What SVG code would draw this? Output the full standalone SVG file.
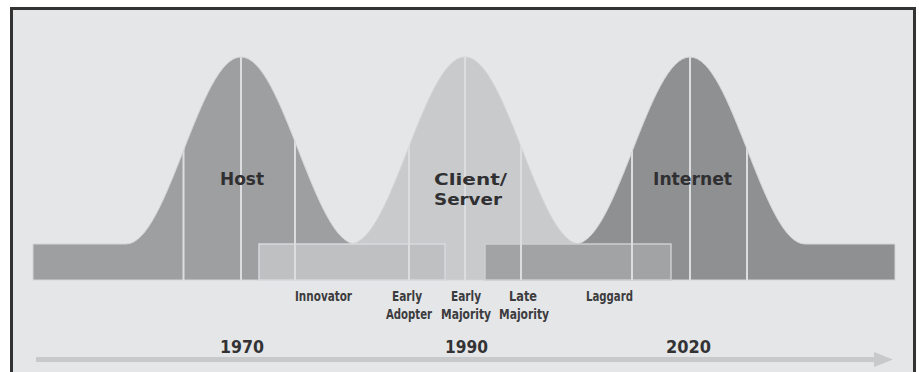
<svg xmlns="http://www.w3.org/2000/svg" width="919" height="372" viewBox="0 0 919 372">
  <style>
    .title { font-family: "DejaVu Sans", "Liberation Sans", sans-serif; font-weight: bold; font-size: 17px; fill: #303032; }
    .title2 { font-family: "DejaVu Sans", "Liberation Sans", sans-serif; font-weight: bold; font-size: 16.5px; fill: #303032; }
    .year { font-family: "DejaVu Sans", "Liberation Sans", sans-serif; font-weight: bold; font-size: 17px; fill: #333335; }
    .lbl { font-family: "DejaVu Sans Condensed", "DejaVu Sans", "Liberation Sans", sans-serif; font-weight: bold; font-size: 13.5px; fill: #3c3c3e; }
    .bell { stroke: #d4d5d7; stroke-width: 1; }
    .div { stroke: #dcdddf; stroke-width: 2; }
    .band { stroke-width: 1.5; }
  </style>
  <defs>
    <clipPath id="bells">
      <path d="M33,280 L33,244 L126,244 C146.8,244 164.7,198.4 183.5,150.5 C202.3,102.6 220.2,57 241,57 C261.8,57 279.7,102.6 298.5,150.5 C317.3,198.4 335.2,244 356,244 L356,280 Z"/>
      <path d="M350,280 L350,244 C370.8,244 388.7,198.4 407.5,150.5 C426.3,102.6 444.2,57 465,57 C485.8,57 503.7,102.6 522.5,150.5 C541.3,198.4 559.2,244 580,244 L580,280 Z"/>
      <path d="M575,280 L575,244 C595.8,244 613.7,198.4 632.5,150.5 C651.3,102.6 669.2,57 690,57 C710.8,57 728.7,102.6 747.5,150.5 C766.3,198.4 784.2,244 805,244 L895,244 L895,280 Z"/>
    </clipPath>
  </defs>

  <rect x="0" y="0" width="919" height="372" fill="#ffffff"/>
  <rect id="frame" x="11.5" y="8.5" width="903" height="370" fill="#e5e6e8" stroke="#333333" stroke-width="3"/>

  <g id="host">
    <path class="bell" fill="#9e9fa1" d="M33,280 L33,244 L126,244 C146.8,244 164.7,198.4 183.5,150.5 C202.3,102.6 220.2,57 241,57 C261.8,57 279.7,102.6 298.5,150.5 C317.3,198.4 335.2,244 356,244 L356,280 Z"/>
  </g>
  <g id="internet">
    <path class="bell" fill="#8f9092" d="M575,280 L575,244 C595.8,244 613.7,198.4 632.5,150.5 C651.3,102.6 669.2,57 690,57 C710.8,57 728.7,102.6 747.5,150.5 C766.3,198.4 784.2,244 805,244 L895,244 L895,280 Z"/>
  </g>
  <g id="client-server">
    <path class="bell" fill="#c9cacc" d="M350,280 L350,244 C370.8,244 388.7,198.4 407.5,150.5 C426.3,102.6 444.2,57 465,57 C485.8,57 503.7,102.6 522.5,150.5 C541.3,198.4 559.2,244 580,244 L580,280 Z"/>
  </g>

  <g id="adoption-bands">
    <rect class="band" x="259" y="244" width="186" height="36" fill="#bfc0c2" stroke="#d8d9db"/>
    <rect class="band" x="485" y="244" width="186" height="36" fill="#a2a3a5" stroke="#cdced0"/>
  </g>

  <g id="dividers" clip-path="url(#bells)">
    <line class="div" x1="183.5" y1="50" x2="183.5" y2="280"/>
    <line class="div" x1="241" y1="50" x2="241" y2="280"/>
    <line class="div" x1="295" y1="50" x2="295" y2="280"/>
    <line class="div" x1="409" y1="50" x2="409" y2="280"/>
    <line class="div" x1="465" y1="50" x2="465" y2="280"/>
    <line class="div" x1="521" y1="50" x2="521" y2="280"/>
    <line class="div" x1="632" y1="50" x2="632" y2="280"/>
    <line class="div" x1="690" y1="50" x2="690" y2="280"/>
    <line class="div" x1="747" y1="50" x2="747" y2="280"/>
  </g>

  <g id="titles">
    <text class="title" x="220" y="185" textLength="44" lengthAdjust="spacingAndGlyphs">Host</text>
    <text class="title2" x="434" y="184.5" textLength="73" lengthAdjust="spacingAndGlyphs">Client/</text>
    <text class="title2" x="434" y="204.5" textLength="68" lengthAdjust="spacingAndGlyphs">Server</text>
    <text class="title" x="653" y="185" textLength="79" lengthAdjust="spacingAndGlyphs">Internet</text>
  </g>

  <g id="stage-labels">
    <text class="lbl" x="295" y="300.5" textLength="57" lengthAdjust="spacingAndGlyphs">Innovator</text>
    <text class="lbl" x="392" y="300.5" textLength="30" lengthAdjust="spacingAndGlyphs">Early</text>
    <text class="lbl" x="386" y="318.5" textLength="46" lengthAdjust="spacingAndGlyphs">Adopter</text>
    <text class="lbl" x="451" y="300.5" textLength="30" lengthAdjust="spacingAndGlyphs">Early</text>
    <text class="lbl" x="441" y="318.5" textLength="50" lengthAdjust="spacingAndGlyphs">Majority</text>
    <text class="lbl" x="509" y="300.5" textLength="28" lengthAdjust="spacingAndGlyphs">Late</text>
    <text class="lbl" x="499" y="318.5" textLength="50" lengthAdjust="spacingAndGlyphs">Majority</text>
    <text class="lbl" x="586" y="300.5" textLength="47" lengthAdjust="spacingAndGlyphs">Laggard</text>
  </g>

  <g id="years">
    <text class="year" x="220" y="352.5" textLength="44" lengthAdjust="spacingAndGlyphs">1970</text>
    <text class="year" x="445" y="352.5" textLength="43" lengthAdjust="spacingAndGlyphs">1990</text>
    <text class="year" x="666" y="352.5" textLength="45" lengthAdjust="spacingAndGlyphs">2020</text>
  </g>

  <g id="connectors">
    <line x1="36" y1="359.5" x2="877" y2="359.5" stroke="#c8c9cb" stroke-width="5"/>
    <polygon points="874,352 893,359.5 874,367" fill="#c8c9cb"/>
  </g>
</svg>
